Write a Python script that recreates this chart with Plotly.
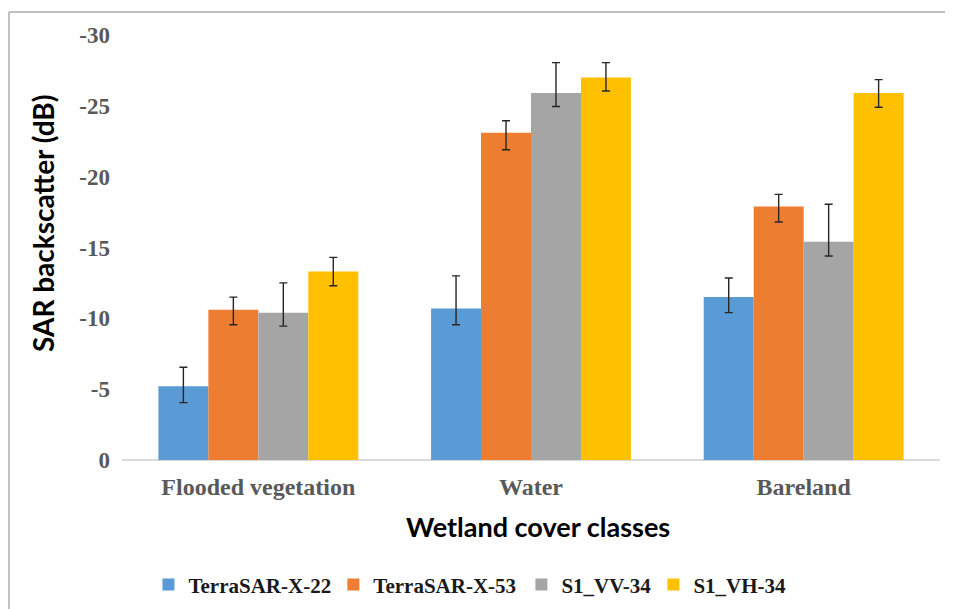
import plotly.graph_objects as go

categories = ["Flooded vegetation", "Water", "Bareland"]
series_names = ["TerraSAR-X-22", "TerraSAR-X-53", "S1_VV-34", "S1_VH-34"]
colors = ["#5b9bd5", "#ed7d31", "#a5a5a5", "#ffc000"]

# mean backscatter (dB)
terrasar22 = [-5.2, -10.7, -11.5]
terrasar53 = [-10.6, -23.1, -17.9]
s1_vv34 = [-10.4, -25.9, -15.4]
s1_vh34 = [-13.3, -27.0, -25.9]
values = [terrasar22, terrasar53, s1_vv34, s1_vh34]

# error toward more negative dB (drawn upward) and toward less negative (drawn downward)
err_neg = [
    [1.35, 2.3, 1.35],
    [0.9, 0.85, 0.85],
    [2.1, 2.15, 2.65],
    [1.0, 1.05, 0.95],
]
err_pos = [
    [1.15, 1.15, 1.1],
    [1.05, 1.2, 1.1],
    [0.95, 0.95, 1.0],
    [1.0, 0.95, 1.0],
]

y_ticks = [0, -5, -10, -15, -20, -25, -30]

serif = "Liberation Serif, Times New Roman, serif"
sans = "Lato, Open Sans, sans-serif"

legend_ids = ["legend", "legend2", "legend3", "legend4"]
legend_x = [0.1486, 0.3443, 0.5433, 0.6830]

fig = go.Figure()
for name, col, vals, en, ep, lid in zip(series_names, colors, values, err_neg, err_pos, legend_ids):
    fig.add_trace(go.Bar(
        x=categories, y=vals, name="<b>" + name + "</b>",
        marker=dict(color=col, line=dict(width=0)),
        error_y=dict(type="data", symmetric=False, array=ep, arrayminus=en,
                     color="#262626", thickness=1.4, width=4),
        legend=lid,
    ))

legend_common = dict(orientation="h", xref="container", yref="container",
                     y=0.040, xanchor="left", yanchor="middle",
                     font=dict(family=serif, size=21, color="#1a1a1a"),
                     itemwidth=30, bgcolor="rgba(0,0,0,0)")

layout_legends = {}
for lid, lx in zip(legend_ids, legend_x):
    d = dict(legend_common)
    d["x"] = lx
    layout_legends[lid] = d

fig.update_layout(
    width=945, height=601,
    margin=dict(l=114, r=13, t=27, b=149),
    paper_bgcolor="white", plot_bgcolor="white",
    barmode="group", bargap=0.267, bargroupgap=0,
    showlegend=True,
    xaxis=dict(
        showgrid=False, showline=False, zeroline=False,
        tickfont=dict(family=serif, size=24, color="#595959"),
        ticks="", ticklabelstandoff=10,
        tickvals=categories, ticktext=["<b>" + c + "</b>" for c in categories],
    ),
    yaxis=dict(
        range=[0, -30], tickvals=y_ticks, ticktext=["<b>" + str(t) + "</b>" for t in y_ticks],
        showgrid=False, zeroline=True, zerolinecolor="#d9d9d9", zerolinewidth=2,
        showline=False, ticks="",
        tickfont=dict(family=serif, size=23, color="#595959"),
        ticklabelstandoff=11,
    ),
    annotations=[
        dict(text="<b>Wetland cover classes</b>", xref="paper", yref="paper",
             x=0.5086, y=-0.1576, xanchor="center", yanchor="middle", showarrow=False,
             font=dict(family=sans, size=27, color="black")),
        dict(text="<b>SAR backscatter (dB)</b>", xref="paper", yref="paper",
             x=-0.0966, y=0.5576, xanchor="center", yanchor="middle", showarrow=False,
             textangle=-90, font=dict(family=sans, size=28, color="black")),
    ],
    shapes=[
        dict(type="line", xref="paper", yref="paper", x0=-0.1381, x1=1.03,
             y0=1.0541, y1=1.0541, line=dict(color="#bfbfbf", width=2)),
        dict(type="line", xref="paper", yref="paper", x0=-0.1381, x1=-0.1381,
             y0=1.0541, y1=-0.36, line=dict(color="#bfbfbf", width=2)),
    ],
    **layout_legends,
)

fig.write_html("out.html")
